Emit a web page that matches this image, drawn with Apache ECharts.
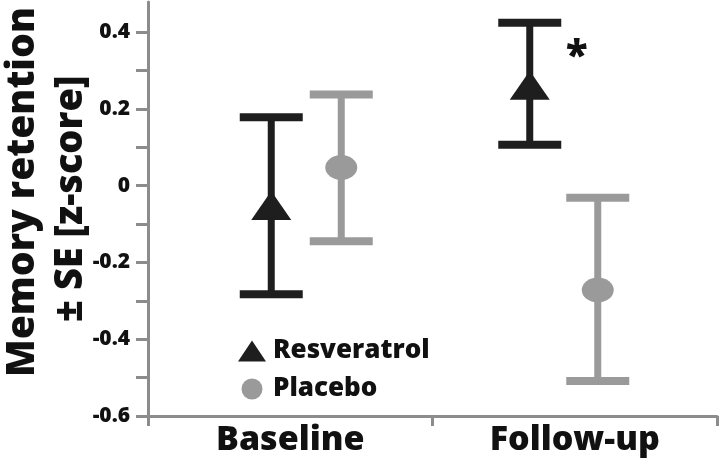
<!DOCTYPE html>
<html>
<head>
<meta charset="utf-8">
<script src="https://cdn.jsdelivr.net/npm/echarts@6/dist/echarts.min.js"></script>
<style>
html,body{margin:0;padding:0;background:#fff;}
#chart{width:720px;height:465px;}
</style>
</head>
<body>
<div id="chart"></div>
<script>
// ---- data ----
const categories = ['Baseline', 'Follow-up'];
const seriesNames = ['Resveratrol', 'Placebo'];
const resveratrolMean = [-0.052, 0.261];
const resveratrolLow  = [-0.283, 0.106];
const resveratrolHigh = [0.178, 0.424];
const placeboMean = [0.047, -0.272];
const placeboLow  = [-0.145, -0.509];
const placeboHigh = [0.237, -0.032];
const resveratrolSig = ['', '*'];
const placeboSig = ['', ''];
const yTickLabels = ['-0.6', '-0.4', '-0.2', '0', '0.2', '0.4'];

// ---- layout / style ----
const FONT = '"Open Sans", "Noto Sans", sans-serif';
const DARK = '#1e1e1e';
const GRAY = '#9a9a9a';
const AXIS = '#8c8c8c';
const OFFSETS = [[-19, -45], [51, 23]]; // pixel offsets within category band
const CAP_W = 63, CAP_H = 8, STEM_W = 7;
const ELLIPSE = 'path://M0,50 A50,50 0 1,1 100,50 A50,50 0 1,1 0,50 Z';

function buildData(mean, low, high) {
  return mean.map((m, i) => [i, m, low[i], high[i]]);
}

function makeRender(seriesIdx, sig, markerType) {
  return function (params, api) {
    const i = params.dataIndex;
    const cat = api.value(0);
    const c = api.coord([cat, api.value(1)]);
    const lo = api.coord([cat, api.value(2)]);
    const hi = api.coord([cat, api.value(3)]);
    const x = c[0] + OFFSETS[seriesIdx][i];
    const color = api.visual('color');
    const children = [
      { type: 'rect', shape: { x: x - STEM_W / 2, y: hi[1], width: STEM_W, height: lo[1] - hi[1] }, style: { fill: color } },
      { type: 'rect', shape: { x: x - CAP_W / 2, y: hi[1] - CAP_H / 2, width: CAP_W, height: CAP_H }, style: { fill: color } },
      { type: 'rect', shape: { x: x - CAP_W / 2, y: lo[1] - CAP_H / 2, width: CAP_W, height: CAP_H }, style: { fill: color } }
    ];
    if (markerType === 'triangle') {
      children.push({ type: 'polygon', shape: { points: [[x, c[1] - 14.5], [x + 20, c[1] + 14.5], [x - 20, c[1] + 14.5]] }, style: { fill: color } });
    } else {
      children.push({ type: 'path', shape: { pathData: 'M0,50 A50,50 0 1,1 100,50 A50,50 0 1,1 0,50 Z', x: x - 16, y: c[1] - 12.5, width: 32, height: 25, layout: 'cover' }, style: { fill: color } });
    }
    if (sig[i]) {
      children.push({ type: 'text', x: x + 47, y: hi[1] + 35, style: { text: sig[i], fill: '#111', font: '800 40px ' + FONT, textAlign: 'center', textVerticalAlign: 'middle' } });
    }
    return { type: 'group', children: children };
  };
}

const chart = echarts.init(document.getElementById('chart'), null, { renderer: 'canvas' });
chart.setOption({
  animation: false,
  backgroundColor: '#fff',
  grid: { left: 148, right: 3, top: 2, bottom: 49, containLabel: false },
  legend: {
    orient: 'vertical',
    left: 233, top: 331,
    itemWidth: 28, itemHeight: 21, itemGap: 8,
    textStyle: { fontFamily: FONT, fontWeight: 800, fontSize: 26, color: '#111', lineHeight: 30, padding: [0, 0, 0, 2] },
    data: [
      { name: seriesNames[0], icon: 'triangle' },
      { name: seriesNames[1], icon: ELLIPSE }
    ]
  },
  xAxis: {
    type: 'category',
    data: categories,
    boundaryGap: true,
    axisLine: { onZero: false, lineStyle: { color: AXIS, width: 3 } },
    axisTick: { show: true, length: 10, lineStyle: { color: AXIS, width: 3 } },
    axisLabel: { fontFamily: FONT, fontWeight: 800, fontSize: 34, color: '#111', margin: 7 }
  },
  yAxis: {
    type: 'value',
    min: -0.6, max: 0.478, interval: 0.1,
    splitLine: { show: false },
    axisLine: { show: true, lineStyle: { color: AXIS, width: 3 } },
    axisTick: { show: true, length: 12, lineStyle: { color: AXIS, width: 3 } },
    axisLabel: {
      fontFamily: FONT, fontWeight: 800, fontSize: 21, color: '#111', margin: 18,
      showMaxLabel: false,
      formatter: function (v) {
        const r = Math.round(v * 10) / 10;
        const s = r === 0 ? '0' : r.toFixed(1);
        return yTickLabels.indexOf(s) >= 0 ? s : '';
      }
    }
  },
  graphic: [
    { type: 'text', x: 23, y: 192, rotation: Math.PI / 2, style: { text: 'Memory retention', font: '800 39px ' + FONT, fill: '#111', textAlign: 'center', textVerticalAlign: 'middle' } },
    { type: 'text', x: 71, y: 199, rotation: Math.PI / 2, style: { text: '± SE [z-score]', font: '800 38px ' + FONT, fill: '#111', textAlign: 'center', textVerticalAlign: 'middle' } }
  ],
  series: [
    { name: seriesNames[0], type: 'custom', itemStyle: { color: DARK }, renderItem: makeRender(0, resveratrolSig, 'triangle'), data: buildData(resveratrolMean, resveratrolLow, resveratrolHigh), z: 3 },
    { name: seriesNames[1], type: 'custom', itemStyle: { color: GRAY }, renderItem: makeRender(1, placeboSig, 'ellipse'), data: buildData(placeboMean, placeboLow, placeboHigh), z: 2 }
  ]
});
</script>
</body>
</html>
